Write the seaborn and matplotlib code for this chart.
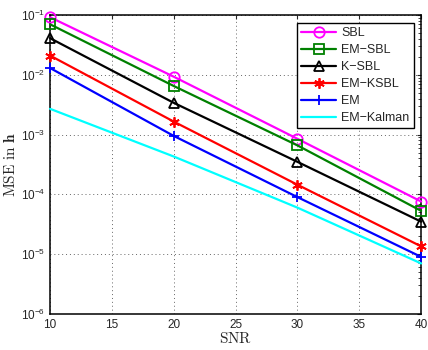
import numpy as np
import pandas as pd
import matplotlib
matplotlib.use("Agg")
import matplotlib.pyplot as plt
import seaborn as sns

snr = [10, 20, 30, 40]
methods = ["SBL", "EM-SBL", "K-SBL", "EM-KSBL", "EM", "EM-Kalman"]
sbl = [0.092, 9.3e-3, 8.5e-4, 7.6e-5]
em_sbl = [0.070, 6.5e-3, 6.6e-4, 5.3e-5]
k_sbl = [0.041, 3.4e-3, 3.5e-4, 3.5e-5]
em_ksbl = [0.021, 1.65e-3, 1.45e-4, 1.35e-5]
em = [0.013, 9.5e-4, 9.0e-5, 9.0e-6]
em_kalman = [2.7e-3, 4.3e-4, 6.0e-5, 7.0e-6]
values = [sbl, em_sbl, k_sbl, em_ksbl, em, em_kalman]

colors = ["#ff00ff", "#008000", "#000000", "#ff0000", "#0000ff", "#00ffff"]
markers = ["o", "s", "^", (6, 2, 0), "+", None]

df = pd.DataFrame({
    "SNR": snr * len(methods),
    "MSE": [v for vals in values for v in vals],
    "method": [m for m in methods for _ in snr],
})

sns.set_style("white")
plt.rcParams["font.family"] = ["Liberation Sans", "DejaVu Sans"]
plt.rcParams["mathtext.fontset"] = "cm"
plt.rcParams["xtick.direction"] = "in"
plt.rcParams["ytick.direction"] = "in"

fig = plt.figure(figsize=(4.28, 3.5), dpi=100)
ax = fig.add_axes([0.117, 0.103, 0.867, 0.854])

for name, col, mk in zip(methods, colors, markers):
    sub = df[df["method"] == name]
    sns.lineplot(data=sub, x="SNR", y="MSE", ax=ax, color=col, lw=1.6,
                 marker=mk, ms=7.5, mfc="none", mec=col, mew=1.3,
                 clip_on=False, zorder=3,
                 label=name.replace("-", "\u2212"))

ax.set_yscale("log")
ax.set_xlim(10, 40)
ax.set_ylim(1e-6, 1e-1)
ax.set_xticks([10, 15, 20, 25, 30, 35, 40])
ax.grid(True, which="major", linestyle=(0, (1, 3)), color="0.4", lw=0.7)
ax.tick_params(which="both", top=True, right=True, labelsize=8.5, length=3)
ax.tick_params(which="minor", length=2)
ax.yaxis.set_minor_locator(matplotlib.ticker.LogLocator(base=10, subs=np.arange(2, 10), numticks=20))
for sp in ax.spines.values():
    sp.set_linewidth(1.1)
    sp.set_color("black")
    sp.set_zorder(2.5)

ax.set_xlabel(r"$\mathrm{SNR}$", fontsize=11, labelpad=0)
ax.set_ylabel(r"$\mathrm{MSE\ in\ }\mathbf{h}$", fontsize=11, labelpad=2)

leg = ax.legend(loc="upper right", fontsize=9, frameon=True, fancybox=False,
                edgecolor="black", borderaxespad=0.6, handlelength=2.8,
                labelspacing=0.4, borderpad=0.35, handletextpad=0.4,
                framealpha=1)
leg.get_frame().set_linewidth(1.0)
leg.set_zorder(5)

fig.savefig("out.png", dpi=100)
